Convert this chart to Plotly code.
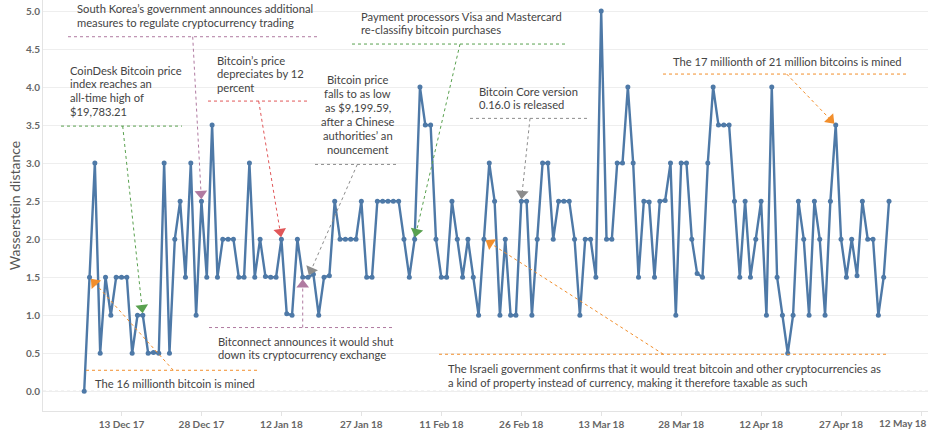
import math
import pandas as pd
import plotly.graph_objects as go

# ---------------- data ----------------
start_date = "2017-12-06"
wasserstein = [
    # Dec 6 - Dec 31 2017
    0.0, 1.5, 3.0, 0.5, 1.5, 1.0, 1.5, 1.5, 1.5, 0.5, 1.0, 1.0, 0.5, 0.51, 0.5,
    3.0, 0.5, 2.0, 2.5, 1.5, 3.0, 1.0, 2.5, 1.5, 3.5, 1.5,
    # Jan 2018
    2.0, 2.0, 2.0, 1.5, 1.5, 3.0, 1.5, 2.0, 1.51, 1.5, 1.5, 2.0, 1.02, 1.0, 2.0,
    1.5, 1.5, 1.54, 1.0, 1.5, 1.52, 2.5, 2.0, 2.0, 2.0, 2.0, 2.5, 1.5, 1.5, 2.5, 2.5,
    # Feb 2018
    2.5, 2.5, 2.5, 2.0, 1.5, 2.0, 4.0, 3.5, 3.5, 2.0, 1.5, 1.5, 2.5, 2.0, 1.5,
    2.0, 1.5, 1.0, 2.0, 3.0, 2.5, 1.0, 2.0, 1.0, 1.0, 2.5, 2.5, 1.0,
    # Mar 2018
    2.0, 3.0, 3.0, 2.0, 2.5, 2.5, 2.5, 2.0, 1.0, 2.0, 2.0, 1.5, 5.0, 2.0, 2.0,
    3.0, 3.0, 4.0, 3.0, 1.5, 2.5, 2.49, 1.5, 2.5, 2.51, 3.0, 1.0, 3.0, 3.0, 2.0, 1.55,
    # Apr 2018
    1.5, 3.0, 4.0, 3.5, 3.5, 3.5, 2.5, 1.5, 2.5, 1.5, 2.0, 2.5, 1.0, 4.0, 1.5,
    1.0, 0.5, 1.0, 2.5, 2.0, 1.0, 2.5, 2.0, 1.0, 2.5, 3.5, 2.0, 1.5, 2.0, 1.52,
    # May 2018
    2.5, 2.0, 2.0, 1.0, 1.5, 2.5,
]
dates = pd.date_range(start_date, periods=len(wasserstein), freq="D")

tick_dates = ["2017-12-13", "2017-12-28", "2018-01-12", "2018-01-27", "2018-02-11",
              "2018-02-26", "2018-03-13", "2018-03-28", "2018-04-12", "2018-04-27",
              "2018-05-12"]
tick_labels = ["13 Dec 17", "28 Dec 17", "12 Jan 18", "27 Jan 18", "11 Feb 18",
               "26 Feb 18", "13 Mar 18", "28 Mar 18", "12 Apr 18", "27 Apr 18",
               "12 May 18"]
y_ticks = [0.0, 0.5, 1.0, 1.5, 2.0, 2.5, 3.0, 3.5, 4.0, 4.5, 5.0]

event_dates = ["2017-12-28", "2017-12-17", "2018-01-12", "2018-01-17", "2018-01-16",
               "2018-02-06", "2018-02-26", "2018-04-26", "2018-02-19", "2017-12-07"]
event_texts = [
    ["South Korea\u2019s government announces additional",
     "measures to regulate cryptocurrency trading"],
    ["CoinDesk Bitcoin price", "index reaches an", "all-time high of", "$19,783.21"],
    ["Bitcoin\u2019s price", "depreciates by 12", "percent"],
    ["Bitcoin price", "falls to as low", "as $9,199.59,", "after a Chinese",
     "authorities\u2019 an", "nouncement"],
    ["Bitconnect announces it would shut", "down its cryptocurrency exchange"],
    ["Payment processors Visa and Mastercard", "re-classifiy bitcoin purchases"],
    ["Bitcoin Core version", "0.16.0 is released"],
    ["The 17 millionth of 21 million bitcoins is mined"],
    ["The Israeli government confirms that it would treat bitcoin and other cryptocurrencies as",
     "a kind of property instead of currency, making it therefore taxable as such"],
    ["The 16 millionth bitcoin is mined"],
]

# ---------------- layout geometry (pixels) ----------------
W, H = 929, 432
ML, MR, MT, MB = 43, 1, 0, 21.3
PW, PH = W - ML - MR, H - MT - MB
REF_DATE = pd.Timestamp("2017-12-13")
REF_PX = 121.5          # pixel of reference date
PX_PER_DAY = 5.33
Y0_PX, PX_PER_UNIT = 391.0, 76.0

x_lo = REF_DATE + pd.Timedelta(days=(ML - REF_PX) / PX_PER_DAY)
x_hi = REF_DATE + pd.Timedelta(days=(ML + PW - REF_PX) / PX_PER_DAY)
y_lo = (Y0_PX - (MT + PH)) / PX_PER_UNIT
y_hi = (Y0_PX - MT) / PX_PER_UNIT


def xp(px):
    return (px - ML) / PW


def yp(py):
    return (MT + PH - py) / PH


def data_to_px(d, v):
    days = (pd.Timestamp(d) - REF_DATE) / pd.Timedelta(days=1)
    return REF_PX + days * PX_PER_DAY, Y0_PX - v * PX_PER_UNIT


def px_to_data(px, py):
    return (REF_DATE + pd.Timedelta(days=(px - REF_PX) / PX_PER_DAY),
            (Y0_PX - py) / PX_PER_UNIT)


callout_layout = [
    dict(tx=75, by=12.7, step=13.4, anchor="left", uy=36.7, ux=(68, 318), ax=192.7, c="#b07aa1"),
    dict(tx=68, by=74.0, step=13.8, anchor="left", uy=126, ux=(61, 182), ax=122.7, c="#59a14f"),
    dict(tx=215, by=64.0, step=13.5, anchor="left", uy=101, ux=(208, 310), ax=258.7, c="#e15759"),
    dict(tx=357.5, by=83.3, step=13.9, anchor="center", uy=164.3, ux=(315, 399), ax=357.3, c="#8c8c8c"),
    dict(tx=216, by=345.0, step=13.4, anchor="left", uy=327.3, ux=(209, 395), ax=302.7, c="#b07aa1"),
    dict(tx=359.3, by=20.0, step=13.4, anchor="left", uy=44, ux=(352, 568), ax=460, c="#59a14f"),
    dict(tx=476.7, by=95.0, step=13.0, anchor="left", uy=118.3, ux=(470, 588), ax=530, c="#8c8c8c"),
    dict(tx=670.7, by=65.0, step=13.4, anchor="left", uy=74, ux=(663, 909), ax=786.7, c="#f28e2b"),
    dict(tx=445.7, by=371.7, step=14.0, anchor="left", uy=354, ux=(439, 887), ax=663.3, c="#f28e2b"),
    dict(tx=93.3, by=387.3, step=13.4, anchor="left", uy=370, ux=(86, 259), ax=173.3, c="#f28e2b"),
]

FONT = "Lato"
TEXT_FONT_SIZE = 11.2
value_by_date = dict(zip(dates.strftime("%Y-%m-%d"), wasserstein))

fig = go.Figure()
fig.add_trace(go.Scatter(
    x=dates, y=wasserstein, mode="lines+markers",
    line=dict(color="#4e79a7", width=2.4),
    marker=dict(color="#4e79a7", size=5),
    hoverinfo="x+y", showlegend=False,
))

shapes = []
annotations = []
shapes.append(dict(type="line", xref="paper", yref="y", x0=0, x1=1, y0=0, y1=0,
                   line=dict(color="#c8c8c8", width=1, dash="dot"), layer="below"))

for d, lines, cl in zip(event_dates, event_texts, callout_layout):
    c = cl["c"]
    for i, t in enumerate(lines):
        base = cl["by"] + i * cl["step"]
        annotations.append(dict(
            text=t, xref="paper", yref="paper", x=xp(cl["tx"]), y=yp(base - 3.9),
            xanchor=cl["anchor"], yanchor="middle", showarrow=False,
            font=dict(family=FONT, size=TEXT_FONT_SIZE, color="#444444"),
        ))
    shapes.append(dict(type="line", xref="paper", yref="paper",
                       x0=xp(cl["ux"][0]), x1=xp(cl["ux"][1]),
                       y0=yp(cl["uy"]), y1=yp(cl["uy"]),
                       line=dict(color=c, width=1, dash="dot")))
    tx_px, ty_px = data_to_px(d, value_by_date[d])
    sx, sy = cl["ax"], cl["uy"]
    dx, dy = tx_px - sx, ty_px - sy
    L = math.hypot(dx, dy)
    ux_, uy_ = dx / L, dy / L
    cx, cy = tx_px - ux_ * 7.5, ty_px - uy_ * 7.5
    shapes.append(dict(type="line", xref="paper", yref="paper",
                       x0=xp(sx), y0=yp(sy), x1=xp(cx), y1=yp(cy),
                       line=dict(color=c, width=1, dash="dot")))
    mx, my = px_to_data(cx, cy)
    angle = math.degrees(math.atan2(-dx, dy))
    fig.add_trace(go.Scatter(
        x=[mx], y=[my], mode="markers", hoverinfo="skip", showlegend=False,
        marker=dict(symbol="triangle-down", size=11, color=c, angle=angle,
                    line=dict(width=0)),
    ))

annotations.append(dict(
    text=tick_labels[-1], xref="x", yref="paper", x=tick_dates[-1], y=0,
    xanchor="right", yanchor="top", xshift=7.5, yshift=-4, showarrow=False,
    font=dict(family=FONT, size=10, color="#666666", weight="bold"),
))

fig.update_layout(
    width=W, height=H,
    margin=dict(l=ML, r=MR, t=MT, b=MB, pad=0),
    paper_bgcolor="white", plot_bgcolor="white",
    font=dict(family=FONT, color="#555555"),
    shapes=shapes, annotations=annotations,
    xaxis=dict(
        type="date", range=[x_lo.isoformat(), x_hi.isoformat()],
        tickvals=tick_dates, ticktext=tick_labels[:-1] + [""],
        showgrid=False, zeroline=False,
        showline=True, linecolor="#e3e3e3", linewidth=1,
        ticks="outside", ticklen=4, tickcolor="#e3e3e3",
        tickfont=dict(family=FONT, size=10, color="#666666", weight="bold"),
        automargin=False,
    ),
    yaxis=dict(
        range=[y_lo, y_hi], tickvals=y_ticks,
        ticktext=[f"{v:.1f}" for v in y_ticks],
        showgrid=True, gridcolor="#eeeeee", gridwidth=1, zeroline=False,
        showline=True, linecolor="#e3e3e3", linewidth=1,
        tickfont=dict(family=FONT, size=10, color="#666666", weight="bold"),
        title=dict(text="Wasserstein distance", standoff=2,
                   font=dict(family=FONT, size=14, color="#555555")),
        automargin=False,
    ),
)

fig.write_html("out.html",
               config={"displayModeBar": False},
               post_script="document.body.style.margin='0px';document.body.style.overflow='hidden';")
